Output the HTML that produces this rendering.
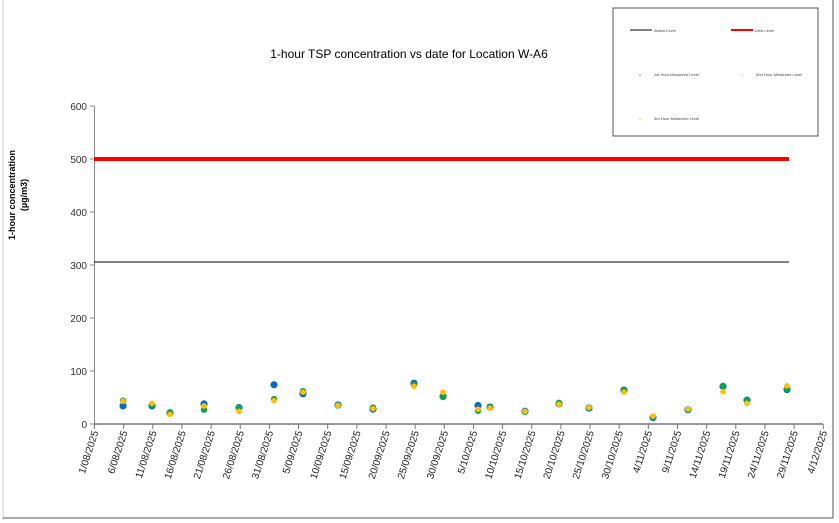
<!DOCTYPE html>
<html><head><meta charset="utf-8"><style>
html,body{margin:0;padding:0;background:#fff}
svg{display:block;font-family:"Liberation Sans",Arial,sans-serif}
</style></head><body>
<svg width="839" height="523" viewBox="0 0 839 523">
<rect x="0" y="0" width="839" height="523" fill="#fff"/>
<line x1="3" y1="0" x2="3" y2="520" stroke="#ccc" stroke-width="1"/>
<line x1="833" y1="0" x2="833" y2="518" stroke="#555" stroke-width="1"/>
<line x1="3" y1="518" x2="833" y2="518" stroke="#555" stroke-width="1"/>
<text x="409" y="58" font-size="12" text-anchor="middle" fill="#000">1-hour TSP concentration vs date for Location  W-A6</text>
<rect x="613" y="8" width="205" height="128" fill="#fff" stroke="#555" stroke-width="1"/>
<line x1="630" y1="30" x2="652" y2="30" stroke="#000" stroke-width="1"/>
<text x="654" y="32" font-size="4" fill="#444">Action Level</text>
<line x1="731" y1="30" x2="753" y2="30" stroke="#f00" stroke-width="2"/>
<text x="755" y="32" font-size="4" fill="#444">Limit Level</text>
<circle cx="640" cy="75" r="0.8" fill="#4aa0e0"/>
<text x="654" y="76" font-size="4" fill="#444">1st Hour Measured Level</text>
<circle cx="742" cy="75" r="0.8" fill="#8e8"/>
<text x="756" y="76" font-size="4" fill="#444">2nd Hour Measured Level</text>
<circle cx="640" cy="119" r="0.8" fill="#fc0"/>
<text x="654" y="120" font-size="4" fill="#444">3rd Hour Measured Level</text>
<line x1="94.5" y1="106" x2="94.5" y2="424" stroke="#888" stroke-width="1"/>
<line x1="94" y1="424" x2="823" y2="424" stroke="#777" stroke-width="1.5"/>
<g stroke="#888" stroke-width="1">
<line x1="90" y1="106" x2="94" y2="106"/><line x1="90" y1="159" x2="94" y2="159"/>
<line x1="90" y1="212" x2="94" y2="212"/><line x1="90" y1="265" x2="94" y2="265"/>
<line x1="90" y1="318" x2="94" y2="318"/><line x1="90" y1="371" x2="94" y2="371"/>
<line x1="90" y1="424" x2="94" y2="424"/>
</g>
<g font-size="10" fill="#333" text-anchor="end">
<text x="87" y="110">600</text><text x="87" y="163">500</text><text x="87" y="216">400</text>
<text x="87" y="269">300</text><text x="87" y="322">200</text><text x="87" y="375">100</text>
<text x="87" y="428">0</text>
</g>
<text transform="translate(15,195) rotate(-90)" font-size="9" font-weight="bold" text-anchor="middle" fill="#000">1-hour concentration</text>
<text transform="translate(27,195) rotate(-90)" font-size="9" font-weight="bold" text-anchor="middle" fill="#000">(µg/m3)</text>
<line x1="94" y1="262" x2="789" y2="262" stroke="#000" stroke-width="1"/>
<line x1="94" y1="159" x2="789" y2="159" stroke="#f00" stroke-width="4"/>
<g id="ticks" stroke="#777" stroke-width="1"></g>
<g id="labels" font-size="10" fill="#222" text-anchor="end"></g>
<g id="pts"></g>
</svg>
<script>
var ns="http://www.w3.org/2000/svg";
var labs=["1/08/2025","6/08/2025","11/08/2025","16/08/2025","21/08/2025","26/08/2025","31/08/2025","5/09/2025","10/09/2025","15/09/2025","20/09/2025","25/09/2025","30/09/2025","5/10/2025","10/10/2025","15/10/2025","20/10/2025","25/10/2025","30/10/2025","4/11/2025","9/11/2025","14/11/2025","19/11/2025","24/11/2025","29/11/2025","4/12/2025"];
var t=document.getElementById("ticks"),l=document.getElementById("labels");
labs.forEach(function(s,i){var x=94.5+i*29.15;
var ln=document.createElementNS(ns,"line");ln.setAttribute("x1",x);ln.setAttribute("x2",x);ln.setAttribute("y1",424);ln.setAttribute("y2",429);t.appendChild(ln);
var tx=document.createElementNS(ns,"text");tx.setAttribute("transform","translate("+(x+4)+",432) rotate(-72)");tx.textContent=s;l.appendChild(tx);});
var d=[[123,34,44,43],[152,34,35,39],[170,21,22,18],[204,38,27,34],[239,31,31,24],[274,74,47,44],[303,57,62,60],[338,36,35,35],[373,28,31,29],[414,77,74,71],[443,52,51,60],[478,35,25,28],[490,32,31,30],[525,24,23,24],[559,38,40,37],[589,30,31,31],[624,64,63,60],[653,12,13,15],[688,27,27,28],[723,71,72,61],[747,45,45,39],[787,65,66,72]];
var p=document.getElementById("pts");
function c(x,v,col,r){var e=document.createElementNS(ns,"circle");e.setAttribute("cx",x);e.setAttribute("cy",424-v*0.53);e.setAttribute("r",r);e.setAttribute("fill",col);p.appendChild(e);}
d.forEach(function(a){c(a[0],a[1],"#0b6cc4",3.6);c(a[0],a[2],"#11a34a",3.2);c(a[0],a[3],"#ffc000",2.8);});
</script>
</body></html>
